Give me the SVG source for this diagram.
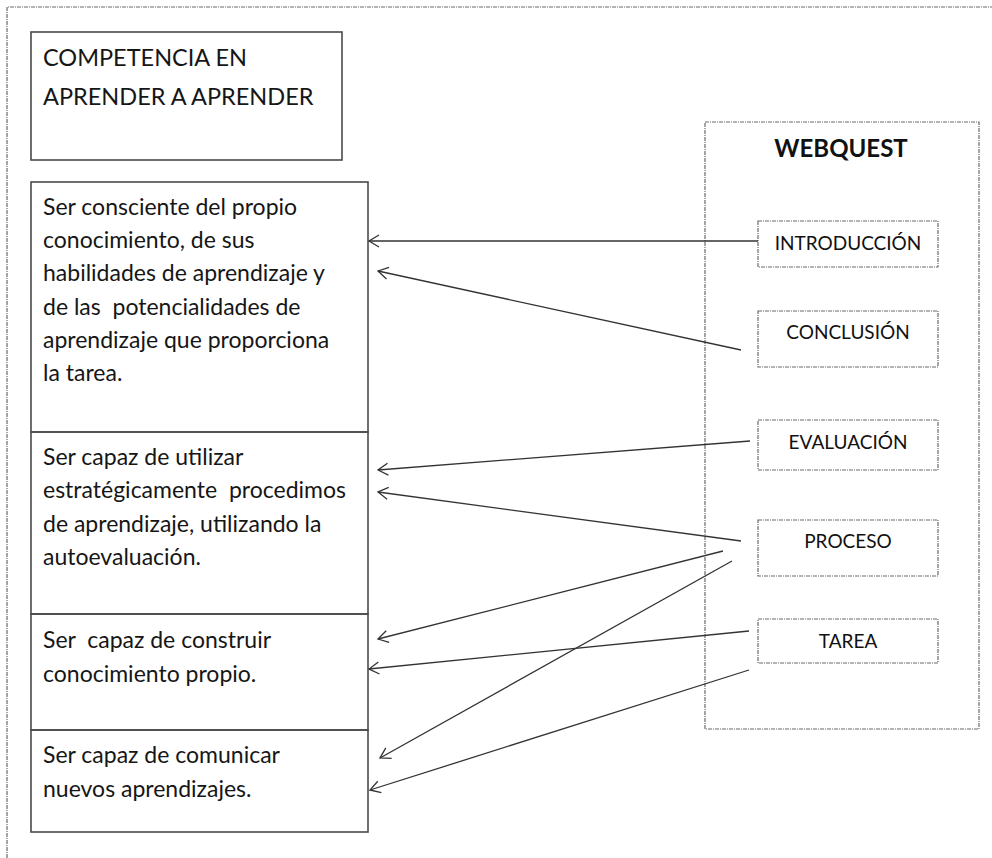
<svg xmlns="http://www.w3.org/2000/svg" width="992" height="858" viewBox="0 0 992 858">
<style>
  .dash { fill: none; stroke: #6a6a6a; stroke-width: 1.2; stroke-dasharray: 4 1 1 1; }
  .box { fill: none; stroke: #4a4a4a; stroke-width: 1.6; }
  .t { font-family: Lato, "Liberation Sans", sans-serif; font-size: 23px; fill: #161616; }
  .title { font-family: Lato, "Liberation Sans", sans-serif; font-size: 23.5px; fill: #161616; }
  .lbl { font-family: Lato, "Liberation Sans", sans-serif; font-size: 19px; fill: #111; text-anchor: middle; }
  .wq { font-family: Lato, "Liberation Sans", sans-serif; font-size: 24px; font-weight: bold; fill: #111; text-anchor: middle; }
  .conn line { stroke: #333; stroke-width: 1.3; marker-end: url(#arr); }
</style>
<defs>
  <marker id="arr" markerUnits="userSpaceOnUse" markerWidth="14" markerHeight="14" refX="12" refY="7" orient="auto" viewBox="0 0 14 14">
    <path d="M2,1 L12,7 L2,13" fill="none" stroke="#333" stroke-width="1.3"/>
  </marker>
</defs>
<rect x="0" y="0" width="992" height="858" fill="#fff"/>
<path class="dash" d="M7,858 L7,7 L992,7"/>

<g id="title">
  <rect class="box" x="31" y="32" width="311" height="128"/>
  <text class="title" x="43" y="66">COMPETENCIA EN</text>
  <text class="title" x="43" y="105">APRENDER A APRENDER</text>
</g>

<g id="comp1">
  <rect class="box" x="31" y="182" width="337" height="250"/>
  <text class="t" x="43" y="215">Ser consciente del propio</text>
  <text class="t" x="43" y="248">conocimiento, de sus</text>
  <text class="t" x="43" y="281">habilidades de aprendizaje y</text>
  <text class="t" x="43" y="315" xml:space="preserve">de las  potencialidades de</text>
  <text class="t" x="43" y="348">aprendizaje que proporciona</text>
  <text class="t" x="43" y="381">la tarea.</text>
</g>

<g id="comp2">
  <rect class="box" x="31" y="432" width="337" height="182"/>
  <text class="t" x="43" y="465">Ser capaz de utilizar</text>
  <text class="t" x="43" y="498" xml:space="preserve">estratégicamente  procedimos</text>
  <text class="t" x="43" y="532">de aprendizaje, utilizando la</text>
  <text class="t" x="43" y="565">autoevaluación.</text>
</g>

<g id="comp3">
  <rect class="box" x="31" y="614" width="337" height="116"/>
  <text class="t" x="43" y="648" xml:space="preserve">Ser  capaz de construir</text>
  <text class="t" x="43" y="682">conocimiento propio.</text>
</g>

<g id="comp4">
  <rect class="box" x="31" y="730" width="337" height="102"/>
  <text class="t" x="43" y="763">Ser capaz de comunicar</text>
  <text class="t" x="43" y="797">nuevos aprendizajes.</text>
</g>

<g id="webquest">
  <rect class="dash" x="705" y="122" width="274" height="607"/>
  <text class="wq" x="841" y="157">WEBQUEST</text>
</g>

<g id="introduccion">
  <rect class="dash" x="758" y="221" width="180" height="46"/>
  <text class="lbl" x="848" y="250">INTRODUCCIÓN</text>
</g>
<g id="conclusion">
  <rect class="dash" x="758" y="311" width="180" height="56"/>
  <text class="lbl" x="848" y="339">CONCLUSIÓN</text>
</g>
<g id="evaluacion">
  <rect class="dash" x="758" y="420" width="180" height="50"/>
  <text class="lbl" x="848" y="449">EVALUACIÓN</text>
</g>
<g id="proceso">
  <rect class="dash" x="758" y="520" width="180" height="56"/>
  <text class="lbl" x="848" y="548">PROCESO</text>
</g>
<g id="tarea">
  <rect class="dash" x="758" y="619" width="180" height="44"/>
  <text class="lbl" x="848" y="648">TAREA</text>
</g>

<g id="connectors" class="conn">
  <line x1="758" y1="241" x2="369" y2="241"/>
  <line x1="741" y1="350" x2="378" y2="271"/>
  <line x1="750" y1="441" x2="378" y2="470"/>
  <line x1="741" y1="541" x2="378" y2="492"/>
  <line x1="723" y1="551" x2="378" y2="639"/>
  <line x1="732" y1="561" x2="380" y2="758"/>
  <line x1="749" y1="631" x2="369" y2="669"/>
  <line x1="749" y1="670" x2="370" y2="790"/>
</g>
</svg>
